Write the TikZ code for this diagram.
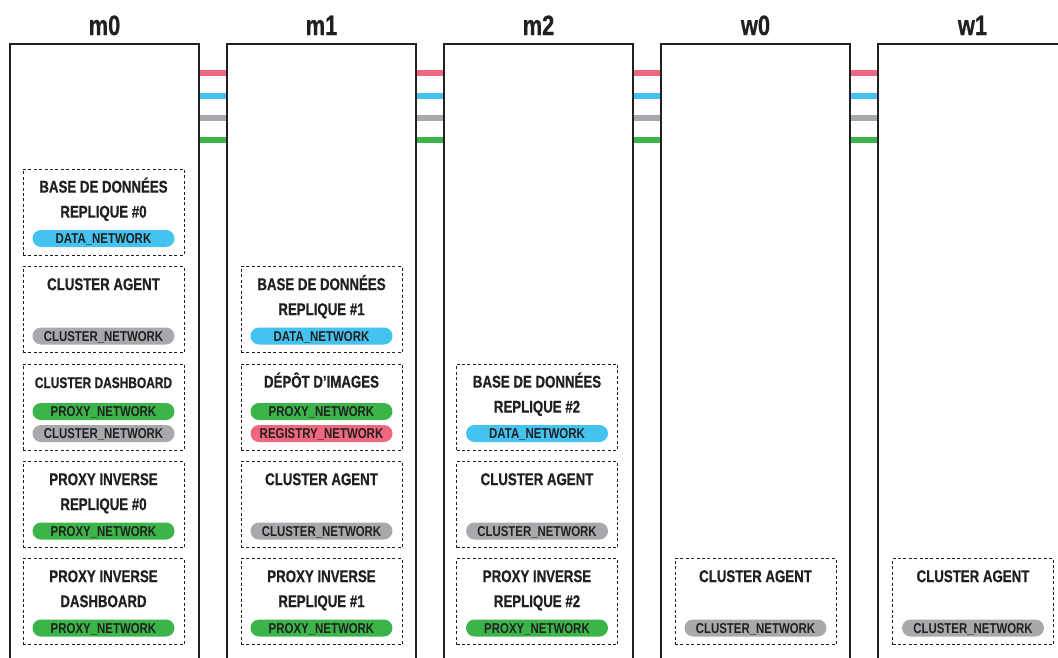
\documentclass[tikz,border=0pt]{standalone}
\usepackage{fontspec}
\newfontfamily\cnd{Liberation Sans}[FakeStretch=0.8]
\newfontfamily\cndh{Liberation Sans Bold}[FakeStretch=0.78,FakeBold=0.7]
\definecolor{textc}{HTML}{231F20}
\definecolor{cpink}{HTML}{F0687F}
\definecolor{cblue}{HTML}{44C3F0}
\definecolor{cgray}{HTML}{A8A9AC}
\definecolor{cgreen}{HTML}{3BB54A}
\newcommand\mysvc[3]{\node[svc] (#1) at (#2,#3+43) {};}
\newcommand\myone[2]{\node[ttl] (#1-a) at ([yshift=-18pt]#1.north) {#2};}
\newcommand\mytwo[3]{\node[ttl] (#1-a) at ([yshift=-18pt]#1.north) {#2};
  \node[ttl] (#1-b) at ([yshift=-43pt]#1.north) {#3};}
\newcommand\mypillA[3]{\node[pill,fill=#2] (#1-p) at ([yshift=17pt]#1.south) {#3};}
\newcommand\mypillB[3]{\node[pill,fill=#2] (#1-q) at ([yshift=39pt]#1.south) {#3};}
\begin{document}
\begin{tikzpicture}[x=1pt,y=-1pt,
  colbox/.style={draw=textc,line width=2.5pt,minimum width=189pt,minimum height=700pt,
    anchor=north west,inner sep=0,outer sep=0},
  coltitle/.style={font=\cndh\fontsize{28}{28}\selectfont,text=textc,
    text height=20pt,text depth=0pt,inner sep=0},
  bar/.style={line width=5.5pt},
  svc/.style={draw=textc,line width=1pt,dash pattern=on 3pt off 2.4pt,
    minimum width=161pt,minimum height=86pt,inner sep=0},
  ttl/.style={font=\cndh\fontsize{17}{17}\selectfont,text=textc,
    text height=12.2pt,text depth=0pt,inner sep=0},
  ttlsmall/.style={ttl,font=\cndh\fontsize{15.3}{15.3}\selectfont,text height=11pt},
  pill/.style={rounded corners=8.5pt,minimum width=142pt,minimum height=17pt,inner sep=0,
    font=\cnd\bfseries\fontsize{14.3}{14.3}\selectfont,text=textc,text height=10.3pt,text depth=0pt}
]
\useasboundingbox (0,0) rectangle (1058,657);
\clip (0,0) rectangle (1058,657);
% columns (shapes only, drawn later on top of bars)
\path node[colbox] (m0) at (10,44) {}
      node[colbox] (m1) at (227,44) {}
      node[colbox] (m2) at (444,44) {}
      node[colbox] (w0) at (661,44) {}
      node[colbox] (w1) at (878,44) {};
% network bars between hosts
\foreach \a/\b in {m0/m1,m1/m2,m2/w0,w0/w1}{
  \draw[bar,cpink]  ([yshift=-29pt]\a.north east) -- ([yshift=-29pt]\b.north west);
  \draw[bar,cblue]  ([yshift=-52pt]\a.north east) -- ([yshift=-52pt]\b.north west);
  \draw[bar,cgray]  ([yshift=-74pt]\a.north east) -- ([yshift=-74pt]\b.north west);
  \draw[bar,cgreen] ([yshift=-96pt]\a.north east) -- ([yshift=-96pt]\b.north west);
}
\foreach \c in {m0,m1,m2,w0,w1}{
  \draw[draw=textc,line width=2.5pt] (\c.south west) -- (\c.north west) -- (\c.north east) -- (\c.south east);
  \node[coltitle] (\c-title) at ([yshift=19pt]\c.north) {\c};
}
% m0
\mysvc{a0}{103.5}{169}
\mytwo{a0}{BASE DE DONNÉES}{REPLIQUE \#0}
\mypillA{a0}{cblue}{DATA\_NETWORK}
\mysvc{a1}{103.5}{266.5}
\myone{a1}{CLUSTER AGENT}
\mypillA{a1}{cgray}{CLUSTER\_NETWORK}
\mysvc{a2}{103.5}{364}
\node[ttlsmall] (a2-a) at ([yshift=-19pt]a2.north) {CLUSTER DASHBOARD};
\mypillB{a2}{cgreen}{PROXY\_NETWORK}
\mypillA{a2}{cgray}{CLUSTER\_NETWORK}
\mysvc{a3}{103.5}{461.5}
\mytwo{a3}{PROXY INVERSE}{REPLIQUE \#0}
\mypillA{a3}{cgreen}{PROXY\_NETWORK}
\mysvc{a4}{103.5}{558.5}
\mytwo{a4}{PROXY INVERSE}{DASHBOARD}
\mypillA{a4}{cgreen}{PROXY\_NETWORK}
% m1
\mysvc{b1}{321.5}{266.5}
\mytwo{b1}{BASE DE DONNÉES}{REPLIQUE \#1}
\mypillA{b1}{cblue}{DATA\_NETWORK}
\mysvc{b2}{321.5}{364}
\myone{b2}{DÉPÔT D’IMAGES}
\mypillB{b2}{cgreen}{PROXY\_NETWORK}
\mypillA{b2}{cpink}{REGISTRY\_NETWORK}
\mysvc{b3}{321.5}{461.5}
\myone{b3}{CLUSTER AGENT}
\mypillA{b3}{cgray}{CLUSTER\_NETWORK}
\mysvc{b4}{321.5}{558.5}
\mytwo{b4}{PROXY INVERSE}{REPLIQUE \#1}
\mypillA{b4}{cgreen}{PROXY\_NETWORK}
% m2
\mysvc{c2}{537}{364}
\mytwo{c2}{BASE DE DONNÉES}{REPLIQUE \#2}
\mypillA{c2}{cblue}{DATA\_NETWORK}
\mysvc{c3}{537}{461.5}
\myone{c3}{CLUSTER AGENT}
\mypillA{c3}{cgray}{CLUSTER\_NETWORK}
\mysvc{c4}{537}{558.5}
\mytwo{c4}{PROXY INVERSE}{REPLIQUE \#2}
\mypillA{c4}{cgreen}{PROXY\_NETWORK}
% w0, w1
\mysvc{d4}{755.5}{558.5}
\myone{d4}{CLUSTER AGENT}
\mypillA{d4}{cgray}{CLUSTER\_NETWORK}
\mysvc{e4}{973}{558.5}
\myone{e4}{CLUSTER AGENT}
\mypillA{e4}{cgray}{CLUSTER\_NETWORK}
\end{tikzpicture}
\end{document}
